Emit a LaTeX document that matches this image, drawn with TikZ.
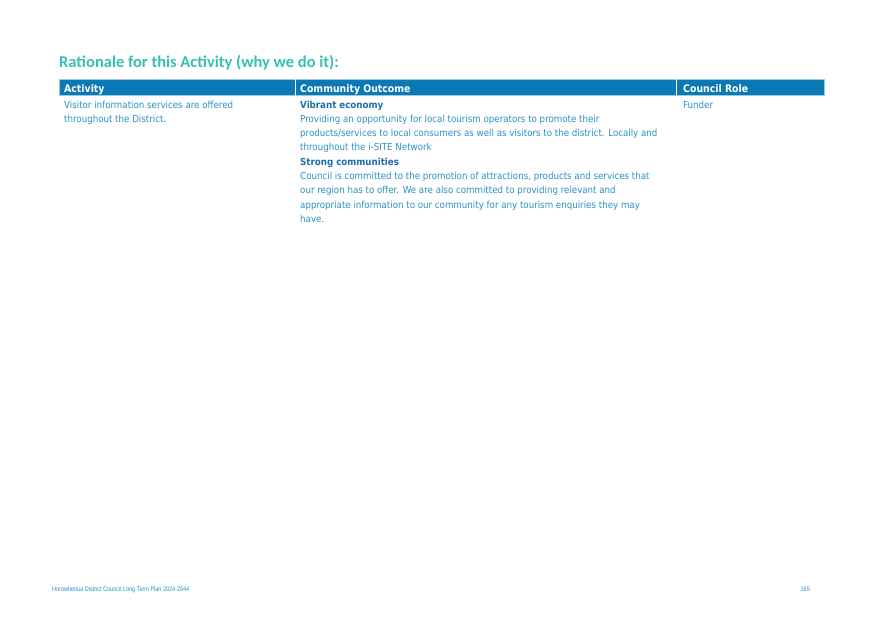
\documentclass[tikz,border=0pt]{standalone}
\usepackage{fontspec}
\setmainfont{DejaVu Sans Condensed}
\newfontfamily\titlefont{Carlito}
\newfontfamily\footfont[FakeStretch=0.82]{Liberation Sans}
\usetikzlibrary{positioning}

\definecolor{titre}{HTML}{35C0B3}
\definecolor{entete}{HTML}{0A79B4}
\definecolor{texte}{HTML}{2A90C8}
\definecolor{fonce}{HTML}{1D6DAA}

\tikzset{
  cell/.style={anchor=north west,inner sep=0pt,align=left,text=texte,
    font=\fontsize{9.65}{14.3}\selectfont},
  head/.style={anchor=base west,inner sep=0pt,text=white,
    font=\fontsize{10.4}{14.3}\selectfont\bfseries},
  pied/.style={inner sep=0pt,text=texte,font=\fontsize{6.7}{8}\selectfont\footfont}
}

\begin{document}
\begin{tikzpicture}[x=1pt,y=-1pt]
\useasboundingbox (0,0) rectangle (874,618);

\node[anchor=base west,inner sep=0pt,text=titre,font=\fontsize{16.5}{20}\selectfont\titlefont\bfseries] (titre) at (59,67) {Rationale for this Activity (why we do it):};

%la barre d'entete
\fill[entete,draw=entete!40] (59,79) rectangle (824,95.5);
\draw[white,line width=0.8pt] (295,79) -- (295,95.5);
\draw[white,line width=0.8pt] (676,79) -- (676,95.5);

\node[head] (hact) at (64,92) {Activity};
\node[head] (hout) at (300,92) {Community Outcome};
\node[head] (hrole) at (683,92) {Council Role};

%les colonnes
\node[cell] (act) at (64,100.5) {Visitor information services are offered\\throughout the District.};
\node[cell] (out) at (300,100.5) {{\color{fonce}\bfseries Vibrant economy}\\
Providing an opportunity for local tourism operators to promote their\\
products/services to local consumers as well as visitors to the district. Locally and\\
throughout the i-SITE Network\\
{\color{fonce}\bfseries Strong communities}\\
Council is committed to the promotion of attractions, products and services that\\
our region has to offer. We are also committed to providing relevant and\\
appropriate information to our community for any tourism enquiries they may\\
have.};
\node[cell] (role) at (683,100.5) {Funder};

%le pied de page
\node[pied,anchor=base west] (bas) at (52,591.5) {Horowhenua District Council Long Term Plan 2024-2044};
\node[pied,anchor=base east] (page) at (810,591.5) {169};
\end{tikzpicture}
\end{document}
